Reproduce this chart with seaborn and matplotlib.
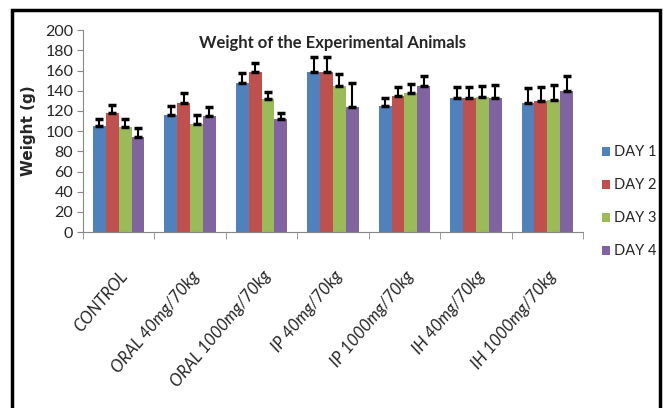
import numpy as np
import pandas as pd
import seaborn as sns
import matplotlib
matplotlib.use('Agg')
import matplotlib.pyplot as plt
from matplotlib.patches import Rectangle

groups = ['CONTROL', 'ORAL 40mg/70kg', 'ORAL 1000mg/70kg', 'IP 40mg/70kg',
          'IP 1000mg/70kg', 'IH 40mg/70kg', 'IH 1000mg/70kg']
days = ['DAY 1', 'DAY 2', 'DAY 3', 'DAY 4']
day1 = [105, 116, 148, 159, 125, 133, 128]
day2 = [118, 128, 159, 159, 135, 133, 130]
day3 = [104, 107, 132, 145, 138, 134, 131]
day4 = [94, 115, 112, 124, 145, 133, 140]
err1 = [7, 9, 10, 14, 8, 11, 15]
err2 = [8, 10, 9, 14, 9, 11, 14]
err3 = [8, 9, 7, 12, 9, 11, 15]
err4 = [9, 9, 6, 24, 10, 13, 15]
colors = ['#4F81BD', '#C0504D', '#9BBB59', '#8064A2']

vals = [day1, day2, day3, day4]
errs = [err1, err2, err3, err4]
df = pd.DataFrame({
    'group': groups * 4,
    'day': [d for d in days for _ in groups],
    'weight': sum(vals, []),
    'err': sum(errs, []),
})

sns.set_style('white')
plt.rcParams['font.family'] = ['Lato', 'DejaVu Sans']

fig = plt.figure(figsize=(6.64, 4.08), dpi=100)
ax = fig.add_axes([0.125, 0.431, 0.753, 0.495])

sns.barplot(data=df, x='group', y='weight', hue='day', palette=colors,
            width=0.72, gap=0, errorbar=None, saturation=1, linewidth=0, ax=ax)

# upper-only error bars, placed on the bars seaborn drew
for cont, e in zip(ax.containers, errs):
    xs = [p.get_x() + p.get_width() / 2 for p in cont]
    hs = [p.get_height() for p in cont]
    ax.errorbar(xs, hs, yerr=[np.zeros(len(e)), e], fmt='none',
                ecolor='black', elinewidth=1.5, capsize=3, capthick=2.5)

ax.set_ylim(0, 200)
ax.set_xlim(-0.5, 6.5)
ax.set_yticks(range(0, 201, 20))
ax.tick_params(axis='y', labelsize=11.5, length=4, color='#888888', pad=3, left=True)
ax.set_xticks(np.arange(-0.5, 7, 1), minor=True)
ax.tick_params(axis='x', which='minor', length=5, color='#888888', bottom=True)
ax.tick_params(axis='x', which='major', length=0, pad=26)
ax.set_xticks(range(7))
ax.set_xticklabels(groups, rotation=50, ha='right', rotation_mode='anchor',
                   fontsize=12, style='italic')
for s in ['top', 'right']:
    ax.spines[s].set_visible(False)
for s in ['left', 'bottom']:
    ax.spines[s].set_color('#888888')

ax.set_xlabel('')
ax.set_ylabel('Weight (g)', fontsize=11, fontweight='bold', family='DejaVu Sans')
ax.yaxis.set_label_coords(-0.094, 0.5)
ax.text(0.5, 0.935, 'Weight of the Experimental Animals', transform=ax.transAxes,
        ha='center', va='center', fontsize=12, fontweight='bold')

ax.legend(loc='center left', bbox_to_anchor=(1.012, 0.15), frameon=False,
          handlelength=0.55, handleheight=0.55, labelspacing=1.3, fontsize=10.5,
          handletextpad=0.25)

fig.patches.append(Rectangle((12 / 664, -0.05), 648 / 664, 1.05 - 10 / 408,
                             transform=fig.transFigure, fill=False,
                             edgecolor='black', linewidth=2.5))

fig.savefig('out.png', dpi=100)
